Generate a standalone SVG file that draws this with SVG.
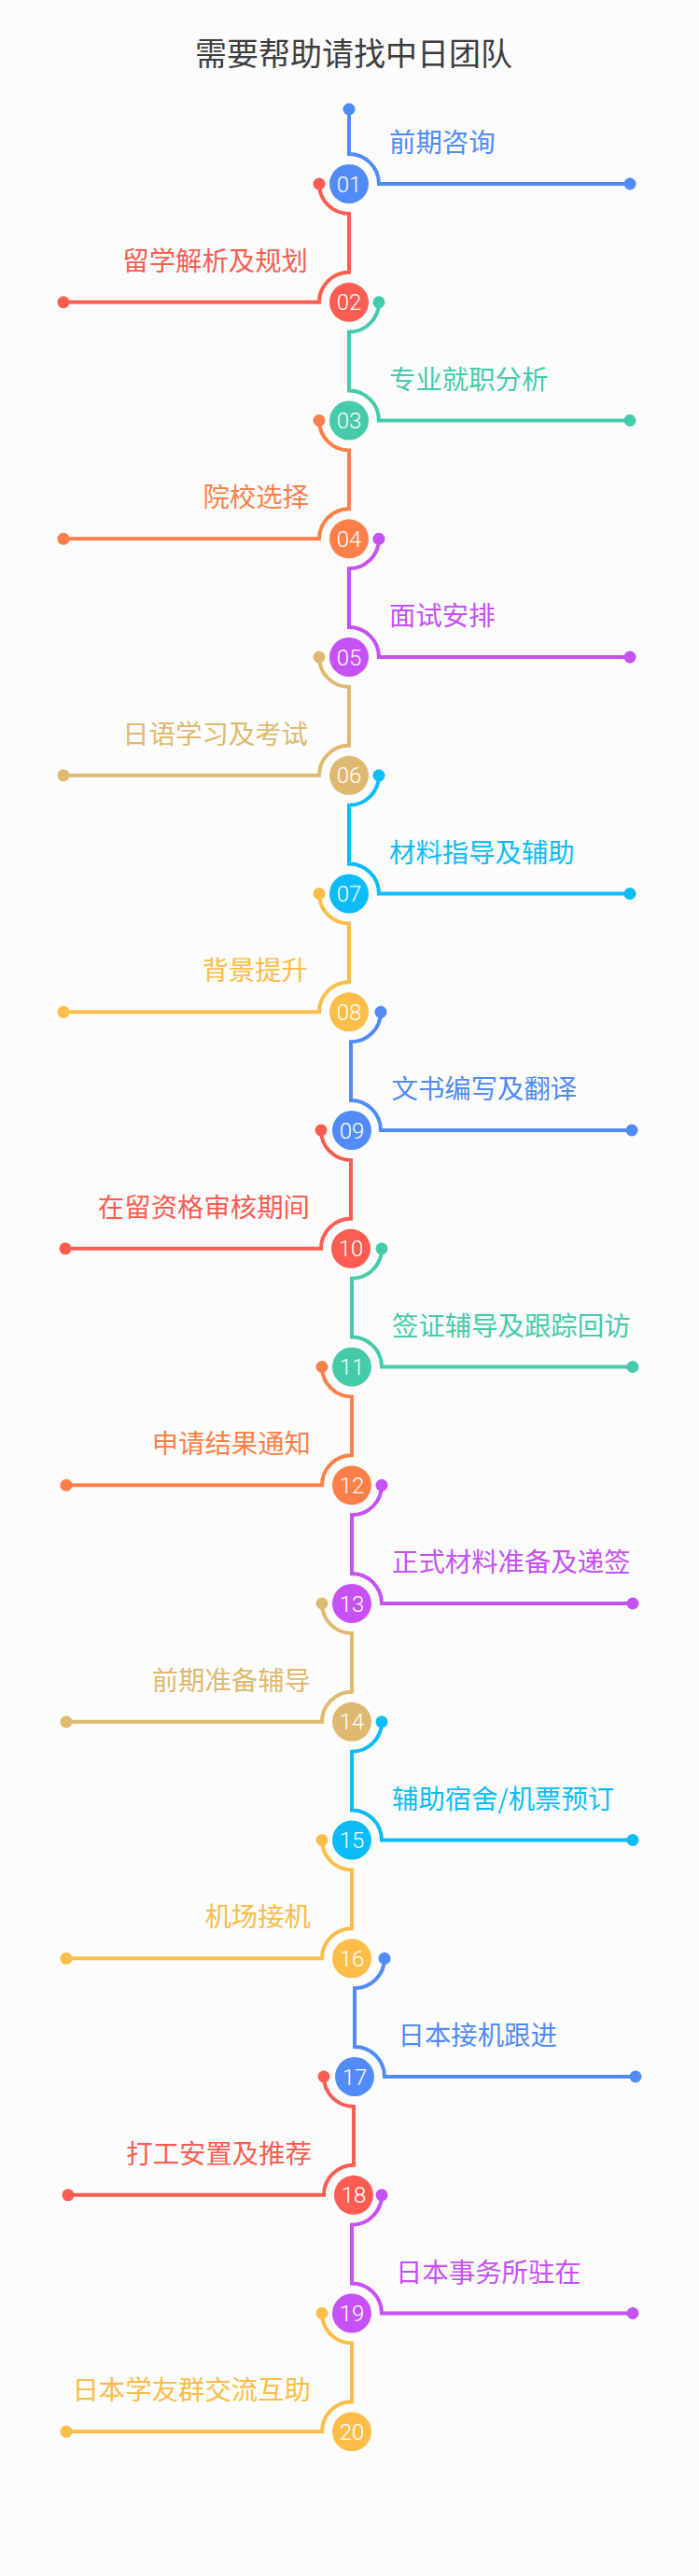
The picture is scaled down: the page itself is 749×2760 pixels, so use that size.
<svg xmlns="http://www.w3.org/2000/svg" width="749" height="2760" viewBox="0 0 749 2760">
<style>
.bg{fill:#fcfcfc}
.title{font-family:"Noto Sans CJK SC","Noto Sans",sans-serif;font-size:34px;fill:#3d3d3d;text-anchor:middle}
.lbl{font-family:"Noto Sans CJK SC","Noto Sans",sans-serif;font-size:28.4px}
.r{text-anchor:start}
.l{text-anchor:end}
.num{font-family:Roboto,"Liberation Sans",sans-serif;font-weight:300;font-size:24px;fill:#fff;text-anchor:middle}
.ln{fill:none;stroke-width:4}
.blue{stroke:#518bf8}.fblue{fill:#518bf8}
.red{stroke:#fb5d52}.fred{fill:#fb5d52}
.teal{stroke:#45cbaa}.fteal{fill:#45cbaa}
.orange{stroke:#ff7f48}.forange{fill:#ff7f48}
.purple{stroke:#c651f7}.fpurple{fill:#c651f7}
.tan{stroke:#dfb970}.ftan{fill:#dfb970}
.cyan{stroke:#0bbcf8}.fcyan{fill:#0bbcf8}
.yellow{stroke:#fdbd48}.fyellow{fill:#fdbd48}
</style>
<rect class="bg" x="0" y="0" width="749" height="2760"/>
<text class="title" x="379" y="70">需要帮助请找中日团队</text>
<g id="connectors">
<path class="ln blue" d="M374 117 V165 A32 32 0 0 1 406 197 H675"/>
<circle class="fblue" cx="374" cy="117" r="6.5"/><circle class="fblue" cx="675" cy="197" r="6.5"/>
<path class="ln red" d="M342 197 A32 32 0 0 0 374 229 V291.8 A32 32 0 0 0 342 323.8 H68"/>
<circle class="fred" cx="342" cy="197" r="6.5"/><circle class="fred" cx="68" cy="323.8" r="6.5"/>
<path class="ln teal" d="M406 323.8 A32 32 0 0 1 374 355.8 V418.5 A32 32 0 0 1 406 450.5 H675"/>
<circle class="fteal" cx="406" cy="323.8" r="6.5"/><circle class="fteal" cx="675" cy="450.5" r="6.5"/>
<path class="ln orange" d="M342 450.5 A32 32 0 0 0 374 482.5 V545.3 A32 32 0 0 0 342 577.3 H68"/>
<circle class="forange" cx="342" cy="450.5" r="6.5"/><circle class="forange" cx="68" cy="577.3" r="6.5"/>
<path class="ln purple" d="M406 577.3 A32 32 0 0 1 374 609.3 V672 A32 32 0 0 1 406 704 H675"/>
<circle class="fpurple" cx="406" cy="577.3" r="6.5"/><circle class="fpurple" cx="675" cy="704" r="6.5"/>
<path class="ln tan" d="M342 704 A32 32 0 0 0 374 736 V798.8 A32 32 0 0 0 342 830.8 H68"/>
<circle class="ftan" cx="342" cy="704" r="6.5"/><circle class="ftan" cx="68" cy="830.8" r="6.5"/>
<path class="ln cyan" d="M406 830.8 A32 32 0 0 1 374 862.8 V925.5 A32 32 0 0 1 406 957.5 H675"/>
<circle class="fcyan" cx="406" cy="830.8" r="6.5"/><circle class="fcyan" cx="675" cy="957.5" r="6.5"/>
<path class="ln yellow" d="M342 957.5 A32 32 0 0 0 374 989.5 V1052.3 A32 32 0 0 0 342 1084.3 H68"/>
<circle class="fyellow" cx="342" cy="957.5" r="6.5"/><circle class="fyellow" cx="68" cy="1084.3" r="6.5"/>
<path class="ln blue" d="M408 1084.3 A32 32 0 0 1 376 1116.3 V1179 A32 32 0 0 1 408 1211 H677"/>
<circle class="fblue" cx="408" cy="1084.3" r="6.5"/><circle class="fblue" cx="677" cy="1211" r="6.5"/>
<path class="ln red" d="M344 1211 A32 32 0 0 0 376 1243 V1305.8 A32 32 0 0 0 344 1337.8 H70"/>
<circle class="fred" cx="344" cy="1211" r="6.5"/><circle class="fred" cx="70" cy="1337.8" r="6.5"/>
<path class="ln teal" d="M409 1337.8 A32 32 0 0 1 377 1369.8 V1432.5 A32 32 0 0 1 409 1464.5 H678"/>
<circle class="fteal" cx="409" cy="1337.8" r="6.5"/><circle class="fteal" cx="678" cy="1464.5" r="6.5"/>
<path class="ln orange" d="M345 1464.5 A32 32 0 0 0 377 1496.5 V1559.3 A32 32 0 0 0 345 1591.3 H71"/>
<circle class="forange" cx="345" cy="1464.5" r="6.5"/><circle class="forange" cx="71" cy="1591.3" r="6.5"/>
<path class="ln purple" d="M409 1591.3 A32 32 0 0 1 377 1623.3 V1686 A32 32 0 0 1 409 1718 H678"/>
<circle class="fpurple" cx="409" cy="1591.3" r="6.5"/><circle class="fpurple" cx="678" cy="1718" r="6.5"/>
<path class="ln tan" d="M345 1718 A32 32 0 0 0 377 1750 V1812.8 A32 32 0 0 0 345 1844.8 H71"/>
<circle class="ftan" cx="345" cy="1718" r="6.5"/><circle class="ftan" cx="71" cy="1844.8" r="6.5"/>
<path class="ln cyan" d="M409 1844.8 A32 32 0 0 1 377 1876.8 V1939.5 A32 32 0 0 1 409 1971.5 H678"/>
<circle class="fcyan" cx="409" cy="1844.8" r="6.5"/><circle class="fcyan" cx="678" cy="1971.5" r="6.5"/>
<path class="ln yellow" d="M345 1971.5 A32 32 0 0 0 377 2003.5 V2066.3 A32 32 0 0 0 345 2098.3 H71"/>
<circle class="fyellow" cx="345" cy="1971.5" r="6.5"/><circle class="fyellow" cx="71" cy="2098.3" r="6.5"/>
<path class="ln blue" d="M412 2098.3 A32 32 0 0 1 380 2130.3 V2193 A32 32 0 0 1 412 2225 H681"/>
<circle class="fblue" cx="412" cy="2098.3" r="6.5"/><circle class="fblue" cx="681" cy="2225" r="6.5"/>
<path class="ln red" d="M347 2225 A32 32 0 0 0 379 2257 V2319.8 A32 32 0 0 0 347 2351.8 H73"/>
<circle class="fred" cx="347" cy="2225" r="6.5"/><circle class="fred" cx="73" cy="2351.8" r="6.5"/>
<path class="ln purple" d="M409 2351.8 A32 32 0 0 1 377 2383.8 V2446.5 A32 32 0 0 1 409 2478.5 H678"/>
<circle class="fpurple" cx="409" cy="2351.8" r="6.5"/><circle class="fpurple" cx="678" cy="2478.5" r="6.5"/>
<path class="ln yellow" d="M345 2478.5 A32 32 0 0 0 377 2510.5 V2573.3 A32 32 0 0 0 345 2605.3 H71"/>
<circle class="fyellow" cx="345" cy="2478.5" r="6.5"/><circle class="fyellow" cx="71" cy="2605.3" r="6.5"/>
</g>
<g id="n01"><circle class="fblue" cx="374" cy="197" r="21"/><text class="num" x="374" y="205.5">01</text><text class="lbl r fblue" x="417" y="163">前期咨询</text></g>
<g id="n02"><circle class="fred" cx="374" cy="323.8" r="21"/><text class="num" x="374" y="332.3">02</text><text class="lbl l fred" x="330" y="289.8">留学解析及规划</text></g>
<g id="n03"><circle class="fteal" cx="374" cy="450.5" r="21"/><text class="num" x="374" y="459">03</text><text class="lbl r fteal" x="417" y="416.5">专业就职分析</text></g>
<g id="n04"><circle class="forange" cx="374" cy="577.3" r="21"/><text class="num" x="374" y="585.8">04</text><text class="lbl l forange" x="331" y="543.3">院校选择</text></g>
<g id="n05"><circle class="fpurple" cx="374" cy="704" r="21"/><text class="num" x="374" y="712.5">05</text><text class="lbl r fpurple" x="417" y="670">面试安排</text></g>
<g id="n06"><circle class="ftan" cx="374" cy="830.8" r="21"/><text class="num" x="374" y="839.3">06</text><text class="lbl l ftan" x="330" y="796.8">日语学习及考试</text></g>
<g id="n07"><circle class="fcyan" cx="374" cy="957.5" r="21"/><text class="num" x="374" y="966">07</text><text class="lbl r fcyan" x="417" y="923.5">材料指导及辅助</text></g>
<g id="n08"><circle class="fyellow" cx="374" cy="1084.3" r="21"/><text class="num" x="374" y="1092.8">08</text><text class="lbl l fyellow" x="330" y="1050.3">背景提升</text></g>
<g id="n09"><circle class="fblue" cx="377" cy="1211" r="21"/><text class="num" x="377" y="1219.5">09</text><text class="lbl r fblue" x="419.5" y="1177">文书编写及翻译</text></g>
<g id="n10"><circle class="fred" cx="376" cy="1337.8" r="21"/><text class="num" x="376" y="1346.3">10</text><text class="lbl l fred" x="332" y="1303.8">在留资格审核期间</text></g>
<g id="n11"><circle class="fteal" cx="377" cy="1464.5" r="21"/><text class="num" x="377" y="1473">11</text><text class="lbl r fteal" x="420" y="1430.5">签证辅导及跟踪回访</text></g>
<g id="n12"><circle class="forange" cx="377" cy="1591.3" r="21"/><text class="num" x="377" y="1599.8">12</text><text class="lbl l forange" x="333" y="1557.3">申请结果通知</text></g>
<g id="n13"><circle class="fpurple" cx="377" cy="1718" r="21"/><text class="num" x="377" y="1726.5">13</text><text class="lbl r fpurple" x="420" y="1684">正式材料准备及递签</text></g>
<g id="n14"><circle class="ftan" cx="377" cy="1844.8" r="21"/><text class="num" x="377" y="1853.3">14</text><text class="lbl l ftan" x="333" y="1810.8">前期准备辅导</text></g>
<g id="n15"><circle class="fcyan" cx="377" cy="1971.5" r="21"/><text class="num" x="377" y="1980">15</text><text class="lbl r fcyan" x="420" y="1937.5">辅助宿舍/机票预订</text></g>
<g id="n16"><circle class="fyellow" cx="377" cy="2098.3" r="21"/><text class="num" x="377" y="2106.8">16</text><text class="lbl l fyellow" x="333" y="2064.3">机场接机</text></g>
<g id="n17"><circle class="fblue" cx="380" cy="2225" r="21"/><text class="num" x="380" y="2233.5">17</text><text class="lbl r fblue" x="426.5" y="2191">日本接机跟进</text></g>
<g id="n18"><circle class="fred" cx="379" cy="2351.8" r="21"/><text class="num" x="379" y="2360.3">18</text><text class="lbl l fred" x="334" y="2317.8">打工安置及推荐</text></g>
<g id="n19"><circle class="fpurple" cx="377" cy="2478.5" r="21"/><text class="num" x="377" y="2487">19</text><text class="lbl r fpurple" x="424" y="2444.5">日本事务所驻在</text></g>
<g id="n20"><circle class="fyellow" cx="377" cy="2605.3" r="21"/><text class="num" x="377" y="2613.8">20</text><text class="lbl l fyellow" x="333" y="2571.3">日本学友群交流互助</text></g>
</svg>
